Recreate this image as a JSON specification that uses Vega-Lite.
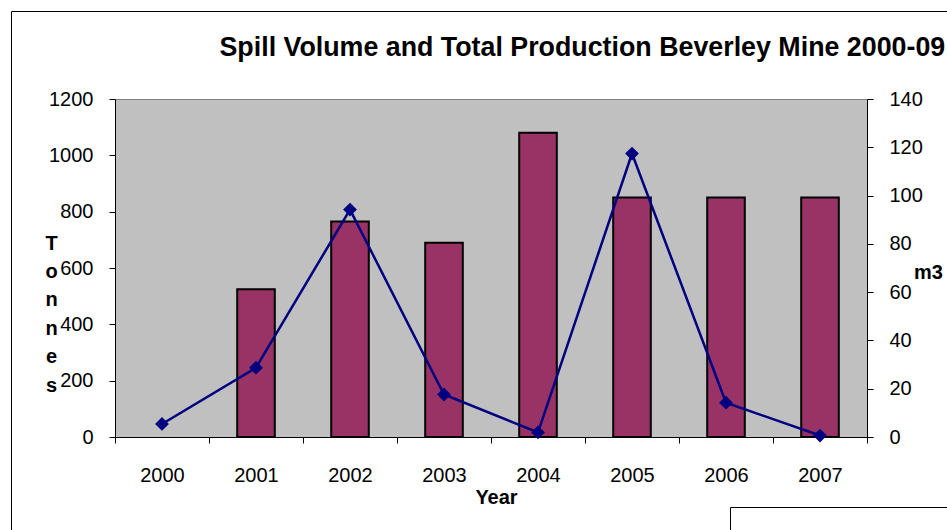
{
  "$schema": "https://vega.github.io/schema/vega-lite/v6.json",
  "width": 752,
  "height": 338,
  "autosize": {"type": "none"},
  "padding": {"left": 115, "top": 99, "right": 80, "bottom": 93},
  "background": "white",
  "title": {
    "text": "Spill Volume and Total Production Beverley Mine 2000-09",
    "anchor": "start",
    "dx": 209,
    "dy": 79,
    "offset": 28,
    "fontSize": 26.8,
    "fontWeight": "bold",
    "color": "black"
  },
  "config": {
    "font": "Liberation Sans",
    "view": {"fill": "#C0C0C0", "stroke": "#808080", "strokeWidth": 1},
    "axis": {
      "labelFontSize": 20,
      "labelColor": "black",
      "titleColor": "black",
      "titleFontSize": 20,
      "titleFontWeight": "bold",
      "domainColor": "black",
      "tickColor": "black",
      "tickSize": 6,
      "grid": false
    }
  },
  "data": {
    "values": [
      {"Year": "2000", "Tonnes": null, "m3": 5.4},
      {"Year": "2001", "Tonnes": 525, "m3": 28.7},
      {"Year": "2002", "Tonnes": 765, "m3": 94.2},
      {"Year": "2003", "Tonnes": 690, "m3": 17.6},
      {"Year": "2004", "Tonnes": 1080, "m3": 1.9},
      {"Year": "2005", "Tonnes": 850, "m3": 117.4},
      {"Year": "2006", "Tonnes": 850, "m3": 14.2},
      {"Year": "2007", "Tonnes": 850, "m3": 0.6}
    ]
  },
  "encoding": {
    "x": {
      "field": "Year",
      "type": "ordinal",
      "scale": {"paddingInner": 0, "paddingOuter": 0},
      "axis": {
        "title": "Year",
        "labelAngle": 0,
        "tickBand": "extent",
        "labelBaseline": "alphabetic",
        "labelPadding": 38,
        "titleBaseline": "alphabetic",
        "titleAlign": "center",
        "titleX": 381,
        "titleY": 66
      }
    }
  },
  "layer": [
    {
      "mark": {"type": "bar", "width": {"band": 0.4}, "stroke": "black", "strokeWidth": 2},
      "encoding": {
        "y": {
          "field": "Tonnes",
          "type": "quantitative",
          "scale": {"domain": [0, 1200]},
          "axis": {
            "orient": "left",
            "values": [0, 200, 400, 600, 800, 1000, 1200],
            "format": "d",
            "labelPadding": 16,
            "title": ["T", "o", "n", "n", "e", "s"],
            "titleAngle": 0,
            "titleAlign": "center",
            "titleBaseline": "middle",
            "titleLineHeight": 28.4,
            "titleX": -64,
            "titleY": 144
          }
        },
        "color": {
          "datum": "Tonnes",
          "scale": {"domain": ["Tonnes", "m3"], "range": ["#993366", "#000080"]},
          "legend": {
            "orient": "none",
            "legendX": 615,
            "legendY": 408,
            "strokeColor": "black",
            "fillColor": "white",
            "padding": 40,
            "direction": "horizontal",
            "title": null,
            "labelFontSize": 20
          }
        }
      }
    },
    {
      "encoding": {
        "y": {
          "field": "m3",
          "type": "quantitative",
          "scale": {"domain": [0, 140]},
          "axis": {
            "orient": "right",
            "values": [0, 20, 40, 60, 80, 100, 120, 140],
            "format": "d",
            "labelPadding": 16,
            "title": "m3",
            "titleAngle": 0,
            "titleAlign": "center",
            "titleBaseline": "middle",
            "titleX": 61,
            "titleY": 173
          }
        },
        "color": {"datum": "m3"}
      },
      "layer": [
        {"mark": {"type": "line", "strokeWidth": 2.5}},
        {
          "mark": {"type": "point", "filled": true, "size": 190, "opacity": 1},
          "encoding": {
            "shape": {
              "datum": "Spill",
              "scale": {"range": ["diamond"]},
              "legend": {
                "orient": "none",
                "legendX": -104,
                "legendY": -88,
                "padding": 480,
                "strokeColor": "black",
                "symbolOpacity": 0,
                "labelOpacity": 0,
                "title": null
              }
            }
          }
        }
      ]
    }
  ],
  "resolve": {"scale": {"y": "independent"}}
}
